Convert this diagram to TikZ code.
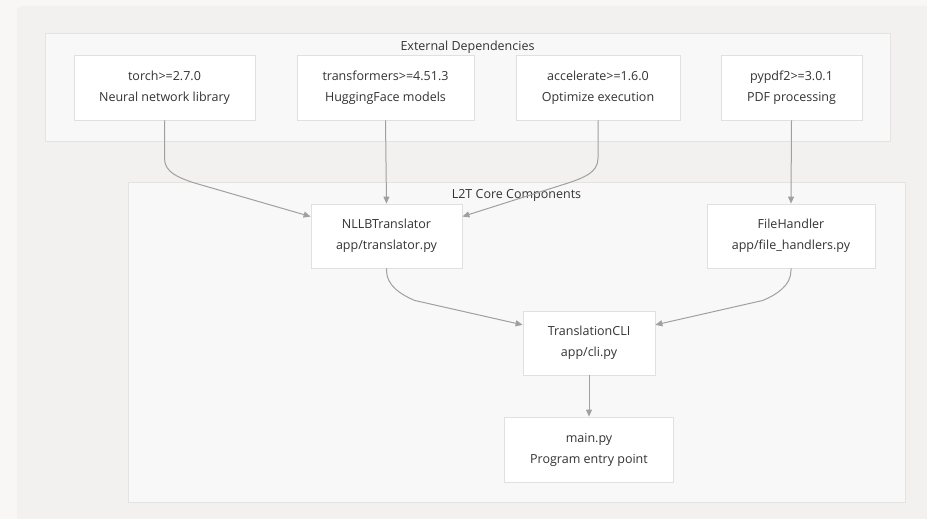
\documentclass[tikz,border=0pt]{standalone}
\usepackage{fontspec}
\setmainfont{Open Sans}
\usetikzlibrary{arrows.meta,calc}
\definecolor{pagebg}{HTML}{F8F7F6}
\definecolor{outerbg}{HTML}{F2F1EF}
\definecolor{clusterbg}{HTML}{F8F8F8}
\definecolor{clusterline}{HTML}{E3E3E3}
\definecolor{nodeline}{HTML}{E0E0E0}
\definecolor{edgecol}{HTML}{A0A0A0}
\definecolor{txt}{HTML}{333333}
\tikzset{
  box/.style={draw=nodeline, fill=white, line width=0.8pt, inner sep=0pt,
    minimum height=65pt, align=center, text=txt,
    font=\fontsize{12.5}{21}\selectfont},
  cluster/.style={draw=clusterline, fill=clusterbg, line width=1pt},
  clabel/.style={text=txt, font=\fontsize{12.5}{14}\selectfont, inner sep=0pt},
  edge/.style={draw=edgecol, line width=1pt, -{Triangle[length=7pt,width=6pt]}},
}
\begin{document}
\begin{tikzpicture}[x=1pt,y=-1pt]
\useasboundingbox (0,0) rectangle (927,519);
\fill[pagebg] (0,0) rectangle (927,519);
\fill[outerbg, rounded corners=6pt] (17,6) rectangle (940,530);
% clusters
\draw[cluster] (45,34) rectangle (890,141);
\node[clabel] (extlabel) at (467.5,47) {External Dependencies};
\draw[cluster] (128,182) rectangle (905,502);
\node[clabel] (corelabel) at (516.5,195) {L2T Core Components};
% nodes
\node[box, minimum width=181pt] (torch) at (164.5,87.5) {torch>=2.7.0\\Neural network library};
\node[box, minimum width=177pt] (trans) at (385.5,87.5) {transformers>=4.51.3\\HuggingFace models};
\node[box, minimum width=164pt] (accel) at (598,87.5) {accelerate>=1.6.0\\Optimize execution};
\node[box, minimum width=141pt] (pypdf) at (791.5,87.5) {pypdf2>=3.0.1\\PDF processing};
\node[box, minimum width=151pt, minimum height=64pt] (nllb) at (386.5,236) {NLLBTranslator\\app/translator.py};
\node[box, minimum width=168pt, minimum height=64pt] (fileh) at (791,236) {FileHandler\\app/file\_handlers.py};
\node[box, minimum width=132pt, minimum height=64pt] (cli) at (589,343) {TranslationCLI\\app/cli.py};
\node[box, minimum width=169pt] (mainpy) at (589,449.5) {main.py\\Program entry point};
% edges
\draw[edge] (torch.south) -- ++(0,38) .. controls ++(0,14) and ++(-14,-5) .. ++(28,24)
  -- ($(nllb.north west)!0.2!(nllb.south west)$);
\draw[edge] (trans.south) -- (nllb.north);
\draw[edge] (accel.south) -- ++(0,38) .. controls ++(0,14) and ++(14,-5) .. ++(-28,24)
  -- ($(nllb.north east)!0.2!(nllb.south east)$);
\draw[edge] (pypdf.south) -- (fileh.north);
\draw[edge] (nllb.south) -- ++(0,2) .. controls ++(0,15) and ++(-14,-6) .. ++(28,30)
  -- ($(cli.north west)!0.22!(cli.south west)$);
\draw[edge] (fileh.south) -- ++(0,2) .. controls ++(0,15) and ++(14,-6) .. ++(-28,30)
  -- ($(cli.north east)!0.22!(cli.south east)$);
\draw[edge] (cli.south) -- (mainpy.north);
\end{tikzpicture}
\end{document}
